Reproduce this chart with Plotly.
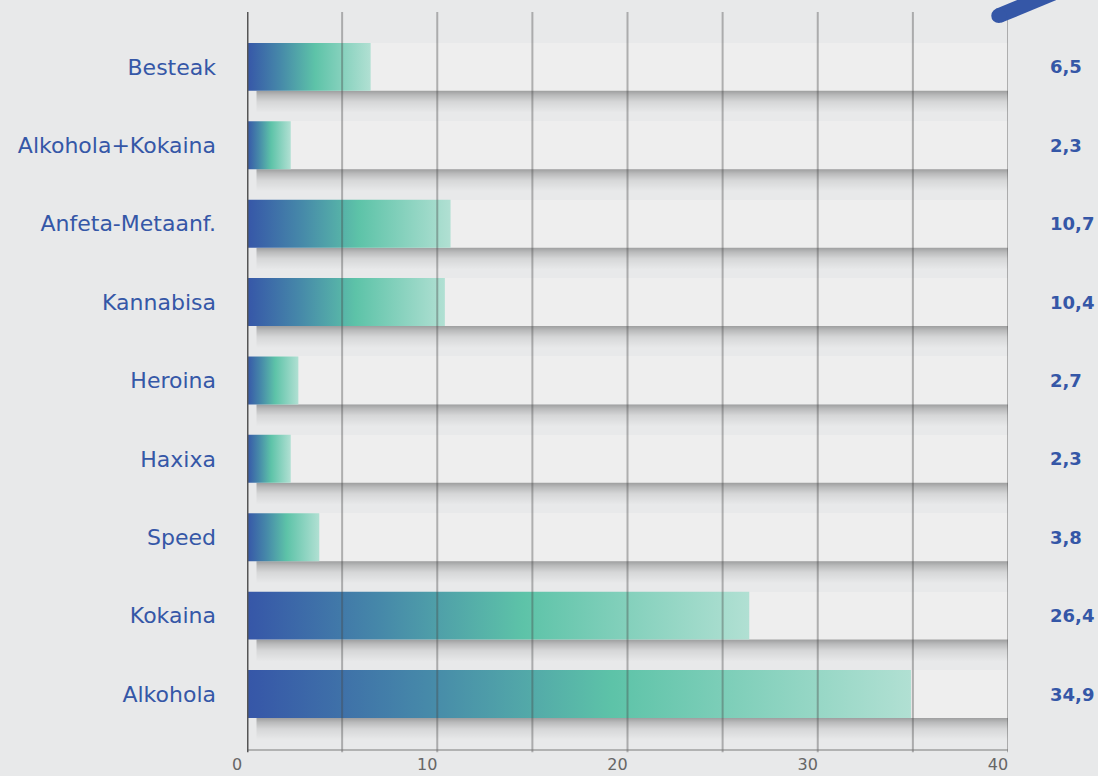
import plotly.graph_objects as go

categories = ["Alkohola", "Kokaina", "Speed", "Haxixa", "Heroina",
              "Kannabisa", "Anfeta-Metaanf.", "Alkohola+Kokaina", "Besteak"]
values = [34.9, 26.4, 3.8, 2.3, 2.7, 10.4, 10.7, 2.3, 6.5]
value_labels = ["34,9", "26,4", "3,8", "2,3", "2,7", "10,4", "10,7", "2,3", "6,5"]
x_ticks = [0, 10, 20, 30, 40]
grid_vals = [5, 10, 15, 20, 25, 30, 35, 40]
x_max = 40

BLUE = "#3557a7"
BG = "#e8e9ea"
BAND = "#eeeeee"
FONT = "DejaVu Sans"
half = 0.306
grad = [[0, "#3656a8"], [0.27, "#4689a9"], [0.55, "#5dc3a8"], [1, "#b1e0d3"]]

fig = go.Figure()
ys = list(range(len(categories)))

# shadows
for i in ys:
    b = i - half
    fig.add_trace(go.Scatter(
        x=[0.5, x_max, x_max, 0.5, 0.5], y=[b - 0.28, b - 0.28, b, b, b - 0.28],
        fill="toself", mode="lines", line=dict(width=0),
        fillgradient=dict(type="vertical",
                          colorscale=[[0, "rgba(0,0,0,0)"], [0.5, "rgba(0,0,0,0.08)"],
                                      [0.8, "rgba(0,0,0,0.2)"], [1, "rgba(0,0,0,0.32)"]]),
        hoverinfo="skip", showlegend=False))
    fig.add_trace(go.Scatter(
        x=[x_max, x_max + 0.9, x_max + 0.9, x_max, x_max],
        y=[b - 0.24, b - 0.24, i + half - 0.05, i + half - 0.05, b - 0.24],
        fill="toself", mode="lines", line=dict(width=0),
        fillgradient=dict(type="horizontal",
                          colorscale=[[0, "rgba(0,0,0,0.3)"], [0.5, "rgba(0,0,0,0.1)"], [1, "rgba(0,0,0,0)"]]),
        hoverinfo="skip", showlegend=False))

# background bands
fig.add_trace(go.Bar(
    x=[x_max] * len(categories), y=ys, orientation="h", width=2 * half,
    marker=dict(color=BAND, line=dict(width=0)), hoverinfo="skip", showlegend=False))

# gradient bars
for i, v in zip(ys, values):
    fig.add_trace(go.Scatter(
        x=[0, v, v, 0, 0], y=[i - half, i - half, i + half, i + half, i - half],
        fill="toself", mode="lines", line=dict(width=0),
        fillgradient=dict(type="horizontal", colorscale=grad),
        hoverinfo="skip", showlegend=False))

shapes = []
for g in grid_vals:
    shapes.append(dict(type="line", xref="x", yref="paper", x0=g, x1=g, y0=-0.003, y1=1,
                       line=dict(color="rgba(70,70,70,0.38)", width=2), layer="above"))
shapes.append(dict(type="line", xref="x", yref="paper", x0=0, x1=x_max, y0=0, y1=0,
                   line=dict(color="rgba(110,110,110,0.45)", width=2), layer="above"))
shapes.append(dict(type="line", xref="x", yref="paper", x0=0, x1=0, y0=-0.003, y1=1,
                   line=dict(color="#555555", width=3), layer="above"))
# blue brush stroke top right
shapes.append(dict(type="line", xref="paper", yref="paper", x0=0.988, y0=0.995, x1=1.07, y1=1.03,
                   line=dict(color=BLUE, width=15), layer="above"))
shapes.append(dict(type="circle", xref="paper", yref="paper", x0=0.978, y0=0.985, x1=0.998, y1=1.005,
                   fillcolor=BLUE, line=dict(width=0), layer="above"))

annotations = []
for i, lab in zip(ys, value_labels):
    annotations.append(dict(x=1.052, xref="paper", y=i, yref="y", text="<b>" + lab + "</b>",
                            showarrow=False, xanchor="left",
                            font=dict(family=FONT, size=18, color=BLUE)))

fig.update_layout(
    width=1098, height=776,
    margin=dict(l=247, r=90, t=12, b=26, autoexpand=False),
    paper_bgcolor=BG, plot_bgcolor=BG,
    shapes=shapes, annotations=annotations,
    xaxis=dict(range=[0, x_max], tickvals=x_ticks, ticktext=[str(t) for t in x_ticks],
               showgrid=False, zeroline=False, showline=False, ticks="", automargin=False,
               tickfont=dict(family=FONT, size=16, color="#666666"),
               ticklabelstandoff=3, ticklabelshift=-10),
    yaxis=dict(range=[-0.714, 8.70], tickvals=ys, ticktext=categories,
               showgrid=False, zeroline=False, showline=False, ticks="", automargin=False,
               tickfont=dict(family=FONT, size=22, color=BLUE),
               ticklabelstandoff=30),
    bargap=0,
)

fig.write_html("out.html", config={"displayModeBar": False},
               post_script="document.body.style.margin='0px';document.body.style.overflow='hidden';")
